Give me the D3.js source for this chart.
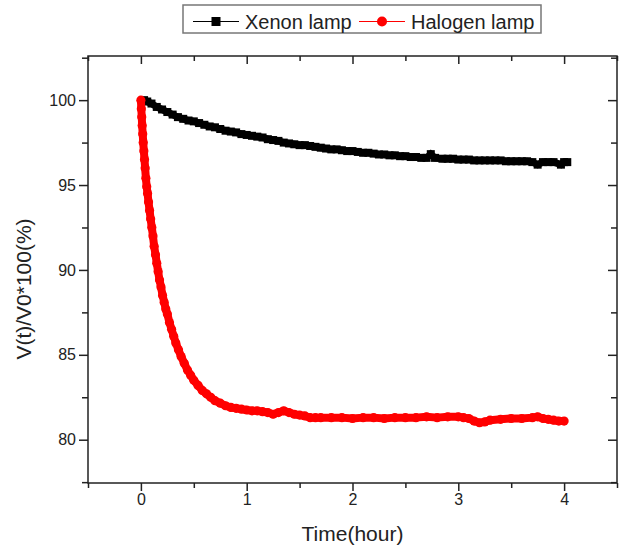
<!DOCTYPE html>
<html>
<head>
<meta charset="utf-8">
<script src="https://cdn.jsdelivr.net/npm/d3@7"></script>
<style>
  body { margin: 0; background: #fff; }
  text { font-family: "Liberation Sans", Arial, sans-serif; fill: #222; }
</style>
</head>
<body>
<div id="chart"></div>
<script>
// Data
const xenonTime = [0.03, 0.06, 0.1, 0.15, 0.2, 0.25, 0.3, 0.35, 0.4, 0.45, 0.5, 0.55, 0.6, 0.65, 0.7, 0.75, 0.8, 0.85, 0.9, 0.95,
    1.0, 1.05, 1.1, 1.15, 1.2, 1.25, 1.3, 1.35, 1.4, 1.45, 1.5, 1.55, 1.6, 1.65, 1.7, 1.75, 1.8, 1.85, 1.9, 1.95,
    2.0, 2.05, 2.1, 2.15, 2.2, 2.25, 2.3, 2.35, 2.4, 2.45, 2.5, 2.55, 2.6, 2.65, 2.7, 2.74, 2.78, 2.85, 2.9, 2.95,
    3.0, 3.05, 3.1, 3.15, 3.2, 3.25, 3.3, 3.35, 3.4, 3.45, 3.5, 3.55, 3.6, 3.65, 3.7, 3.75, 3.8, 3.85, 3.9, 3.97, 4.0, 4.03];
const xenonValue = [100.0, 99.92, 99.8, 99.6, 99.45, 99.3, 99.15, 99.0, 98.9, 98.8, 98.75, 98.65, 98.55, 98.45, 98.4, 98.3, 98.2, 98.15, 98.1, 98.0,
    97.95, 97.9, 97.85, 97.8, 97.7, 97.65, 97.6, 97.5, 97.45, 97.4, 97.35, 97.35, 97.3, 97.25, 97.2, 97.15, 97.1, 97.1, 97.05, 97.0,
    97.0, 96.95, 96.9, 96.9, 96.85, 96.8, 96.8, 96.75, 96.75, 96.7, 96.7, 96.65, 96.65, 96.6, 96.6, 96.82, 96.6, 96.55, 96.55, 96.55,
    96.5, 96.5, 96.5, 96.45, 96.45, 96.45, 96.45, 96.45, 96.45, 96.4, 96.4, 96.4, 96.4, 96.4, 96.35, 96.2, 96.35, 96.35, 96.35, 96.2, 96.35, 96.35];

const halogenTime = [0, 0.004, 0.008, 0.012, 0.017, 0.022, 0.028, 0.034, 0.04, 0.047, 0.055, 0.063, 0.072, 0.082, 0.092, 0.103, 0.114, 0.125,
    0.138, 0.15, 0.163, 0.176, 0.19, 0.205, 0.22, 0.235, 0.25, 0.27, 0.29, 0.31, 0.33, 0.355, 0.38, 0.41, 0.44, 0.47, 0.5,
    0.54, 0.58, 0.62, 0.66, 0.7, 0.75, 0.8, 0.85, 0.9, 0.95, 1.0, 1.05, 1.1, 1.15, 1.2, 1.25, 1.3, 1.35, 1.4, 1.45, 1.5,
    1.55, 1.6, 1.65, 1.7, 1.8, 1.9, 2.0, 2.1, 2.2, 2.3, 2.4, 2.5, 2.6, 2.7, 2.8, 2.9, 3.0, 3.05, 3.1, 3.15, 3.2, 3.25,
    3.3, 3.4, 3.5, 3.6, 3.7, 3.75, 3.8, 3.85, 3.9, 3.95, 4.0];
const halogenValue = [100.0, 99.5, 99.0, 98.5, 98.0, 97.5, 97.0, 96.5, 96.0, 95.4, 94.9, 94.5, 94.0, 93.5, 93.0, 92.5, 92.0, 91.4,
    90.9, 90.4, 89.9, 89.4, 89.0, 88.5, 88.1, 87.7, 87.4, 86.9, 86.5, 86.1, 85.7, 85.3, 84.9, 84.5, 84.1, 83.8, 83.5,
    83.2, 82.9, 82.7, 82.5, 82.3, 82.15, 82.0, 81.9, 81.85, 81.8, 81.75, 81.7, 81.7, 81.65, 81.6, 81.5, 81.6, 81.7, 81.6, 81.5, 81.45,
    81.4, 81.3, 81.3, 81.3, 81.3, 81.3, 81.25, 81.3, 81.3, 81.25, 81.3, 81.3, 81.3, 81.35, 81.3, 81.35, 81.35, 81.3, 81.25, 81.1, 81.0, 81.05,
    81.15, 81.2, 81.25, 81.25, 81.3, 81.35, 81.25, 81.2, 81.15, 81.1, 81.1];

const xTicks = [0, 1, 2, 3, 4];
const xMinor = [-0.5, 0.5, 1.5, 2.5, 3.5, 4.5];
const yTicks = [80, 85, 90, 95, 100];
const yMinor = [77.5, 82.5, 87.5, 92.5, 97.5, 102.5];

const seriesNames = ['Xenon lamp', 'Halogen lamp'];

const margin = { top: 56, right: 7, bottom: 67, left: 88 },
    width = 624 - margin.left - margin.right,
    height = 550 - margin.top - margin.bottom;

const x = d3.scaleLinear().domain([-0.5, 4.5]).range([0, width]);
const y = d3.scaleLinear().domain([77.45, 102.6]).range([height, 0]);

const svg = d3.select('#chart').append('svg')
    .attr('width', 624)
    .attr('height', 550);

const g = svg.append('g')
    .attr('transform', `translate(${margin.left},${margin.top})`);

// Axes: major + minor, bottom/left outward, top/right inward
function styleAxis(sel) {
    sel.select('.domain').remove();
    sel.selectAll('.tick line').attr('stroke', '#222').attr('stroke-width', 1.5);
    sel.selectAll('.tick text').style('font-size', '16px').attr('fill', '#222');
}

g.append('g').attr('transform', `translate(0,${height})`)
    .call(d3.axisBottom(x).tickValues(xTicks).tickSize(8).tickPadding(3).tickFormat(d3.format('d')))
    .call(styleAxis);
g.append('g').attr('transform', `translate(0,${height})`)
    .call(d3.axisBottom(x).tickValues(xMinor).tickSize(5).tickFormat(''))
    .call(styleAxis);
g.append('g')
    .call(d3.axisLeft(y).tickValues(yTicks).tickSize(9).tickPadding(3).tickFormat(d3.format('d')))
    .call(styleAxis);
g.append('g')
    .call(d3.axisLeft(y).tickValues(yMinor).tickSize(6).tickFormat(''))
    .call(styleAxis);

g.append('g')
    .call(d3.axisTop(x).tickValues(xTicks).tickSize(-8).tickFormat(''))
    .call(styleAxis);
g.append('g')
    .call(d3.axisTop(x).tickValues(xMinor).tickSize(-5).tickFormat(''))
    .call(styleAxis);
g.append('g').attr('transform', `translate(${width},0)`)
    .call(d3.axisRight(y).tickValues(yTicks).tickSize(-9).tickFormat(''))
    .call(styleAxis);
g.append('g').attr('transform', `translate(${width},0)`)
    .call(d3.axisRight(y).tickValues(yMinor).tickSize(-6).tickFormat(''))
    .call(styleAxis);

// Frame
g.append('rect')
    .attr('width', width)
    .attr('height', height)
    .attr('fill', 'none')
    .attr('stroke', '#222')
    .attr('stroke-width', 1.5);

// Series
const xenon = xenonTime.map((t, i) => ({ t, v: xenonValue[i] }));
const halogen = halogenTime.map((t, i) => ({ t, v: halogenValue[i] }));

const line = d3.line().x(d => x(d.t)).y(d => y(d.v));

g.append('path')
    .datum(xenon)
    .attr('d', line)
    .attr('fill', 'none')
    .attr('stroke', '#000')
    .attr('stroke-width', 7);

g.selectAll('.xenon')
    .data(xenon)
    .enter().append('rect')
    .attr('class', 'xenon')
    .attr('x', d => x(d.t) - 4)
    .attr('y', d => y(d.v) - 4)
    .attr('width', 8)
    .attr('height', 8)
    .attr('fill', '#000');

g.append('path')
    .datum(halogen)
    .attr('d', line)
    .attr('fill', 'none')
    .attr('stroke', '#f00')
    .attr('stroke-width', 8)
    .attr('stroke-linejoin', 'round');

g.selectAll('.halogen')
    .data(halogen)
    .enter().append('circle')
    .attr('class', 'halogen')
    .attr('cx', d => x(d.t))
    .attr('cy', d => y(d.v))
    .attr('r', 4.6)
    .attr('fill', '#f00');

// Axis titles
svg.append('text')
    .attr('x', margin.left + width / 2)
    .attr('y', 541)
    .attr('text-anchor', 'middle')
    .style('font-size', '21px')
    .text('Time(hour)');

svg.append('text')
    .attr('transform', 'translate(31,289) rotate(-90)')
    .attr('text-anchor', 'middle')
    .style('font-size', '21px')
    .text('V(t)/V0*100(%)');

// Legend
const legend = svg.append('g');
legend.append('rect')
    .attr('x', 183).attr('y', 5)
    .attr('width', 358).attr('height', 28)
    .attr('fill', '#fff')
    .attr('stroke', '#777')
    .attr('stroke-width', 1.5);

const legendItems = [
    { name: seriesNames[0], x0: 193, color: '#000', shape: 'square' },
    { name: seriesNames[1], x0: 359, color: '#f00', shape: 'circle' }
];

legendItems.forEach(item => {
    legend.append('line')
        .attr('x1', item.x0).attr('x2', item.x0 + 46)
        .attr('y1', 21.5).attr('y2', 21.5)
        .attr('stroke', item.color)
        .attr('stroke-width', 1);
    if (item.shape === 'square') {
        legend.append('rect')
            .attr('x', item.x0 + 23 - 4.5).attr('y', 21.5 - 4.5)
            .attr('width', 9).attr('height', 9)
            .attr('fill', item.color);
    } else {
        legend.append('circle')
            .attr('cx', item.x0 + 23).attr('cy', 21.5)
            .attr('r', 5)
            .attr('fill', item.color);
    }
    legend.append('text')
        .attr('x', item.x0 + 52)
        .attr('y', 28.5)
        .style('font-size', '20px')
        .text(item.name);
});
</script>
</body>
</html>
